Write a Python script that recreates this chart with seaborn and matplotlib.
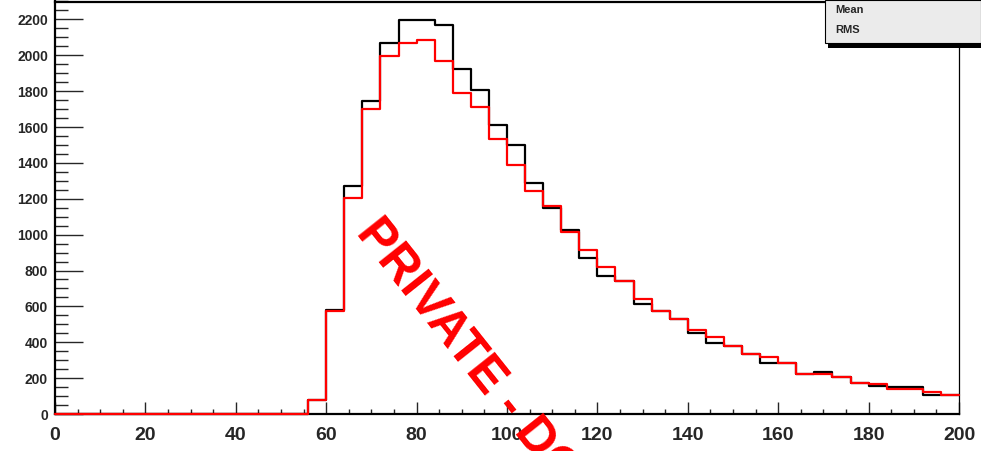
import numpy as np
import pandas as pd
import matplotlib
matplotlib.use("Agg")
import matplotlib.pyplot as plt
import matplotlib.ticker as ticker
from matplotlib.patches import Rectangle
import seaborn as sns

# bin edges: 50 bins of width 4 from 0 to 200
bin_edges = list(range(0, 204, 4))

# black histogram (reference)
black_counts = [0] * 14 + [
    80, 580, 1274, 1745, 2067, 2196, 2196, 2168, 1922, 1806,
    1609, 1499, 1290, 1148, 1028, 870, 767, 739, 613, 577,
    529, 451, 398, 380, 335, 287, 287, 223, 233, 205,
    171, 156, 153, 153, 108, 104]

# red histogram (drawn on top)
red_counts = [0] * 14 + [
    80, 575, 1205, 1698, 1996, 2071, 2086, 1968, 1788, 1711,
    1531, 1391, 1242, 1160, 1015, 916, 819, 739, 642, 577,
    529, 469, 432, 380, 335, 317, 287, 223, 222, 205,
    171, 168, 140, 140, 123, 104]

stats_labels = ["Mean", "RMS"]
x_ticks = [0, 20, 40, 60, 80, 100, 120, 140, 160, 180, 200]
y_ticks = list(range(0, 2400, 200))
watermark = "PRIVATE - DO NOT DISTRIBUTE"

centers = [e + 2 for e in bin_edges[:-1]]
df = pd.DataFrame({"x": centers, "black": black_counts, "red": red_counts})

sns.set_style("ticks")
plt.rcParams["font.family"] = ["Liberation Sans", "DejaVu Sans"]

W, H = 981, 451
fig = plt.figure(figsize=(W / 100, H / 100), dpi=100)
ax = fig.add_axes([55 / W, 1 - 414 / H, (959 - 55) / W, (414 - 1.5) / H])

sns.histplot(data=df, x="x", weights="black", bins=bin_edges, element="step",
             fill=False, color="black", linewidth=1.6, ax=ax)
sns.histplot(data=df, x="x", weights="red", bins=bin_edges, element="step",
             fill=False, color="#ff0000", linewidth=1.6, ax=ax)

# histogram outlines sit on top of the frame, like in ROOT
for line in ax.lines:
    line.set_zorder(3)
    line.set_clip_on(False)

ax.set_xlim(0, 200)
ax.set_ylim(0, 2300)
ax.set_xlabel("")
ax.set_ylabel("")

# ROOT-like axes: ticks pointing inward
ax.set_xticks(x_ticks)
ax.set_yticks(y_ticks)
ax.xaxis.set_minor_locator(ticker.MultipleLocator(5))
ax.yaxis.set_minor_locator(ticker.MultipleLocator(50))
ax.tick_params(axis="x", which="major", direction="in", length=8.6, width=1,
               pad=9, labelsize=14)
ax.tick_params(axis="x", which="minor", direction="in", length=3.6, width=1)
ax.tick_params(axis="y", which="major", direction="in", length=20, width=1,
               pad=5, labelsize=10)
ax.tick_params(axis="y", which="minor", direction="in", length=9.4, width=1)
for lab in ax.get_xticklabels() + ax.get_yticklabels():
    lab.set_fontweight("bold")

for side in ["left", "bottom", "top"]:
    ax.spines[side].set_linewidth(1.6)
    ax.spines[side].set_color("black")
ax.spines["right"].set_linewidth(0.9)
ax.spines["right"].set_color("black")

# stats box in the upper right corner (values cut off)
fig.patches.append(Rectangle((828 / W, 1 - 48 / H), (W - 828) / W, 6 / H,
                             transform=fig.transFigure, facecolor="black",
                             edgecolor="none", zorder=5))
fig.patches.append(Rectangle((825 / W, 1 - 43 / H), (W - 825) / W, 43 / H,
                             transform=fig.transFigure, facecolor="#ebebeb",
                             edgecolor="black", linewidth=0.8, zorder=6))
for i, s in enumerate(stats_labels):
    fig.text(835 / W, 1 - (10 + 20 * i) / H, s, fontsize=8, fontweight="bold",
             va="center", ha="left", zorder=7)

# diagonal watermark
fig.text(355 / W, 1 - 233 / H, watermark, color="#ff0000", fontsize=36,
         fontweight="bold", rotation=-51.5, rotation_mode="anchor",
         ha="left", va="baseline", zorder=10)

fig.savefig("out.png", dpi=100)
